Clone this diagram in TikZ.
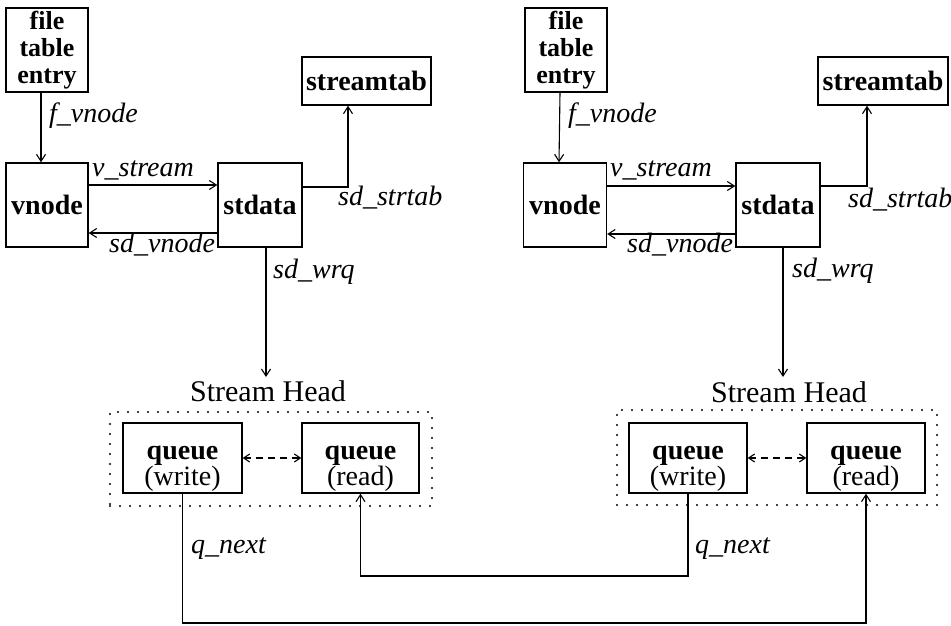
\documentclass[tikz,border=0pt]{standalone}
\usepackage{fontspec}
\setmainfont{Liberation Serif}
\usetikzlibrary{arrows.meta}
\begin{document}
\begin{tikzpicture}[x=1pt,y=-1pt,
  box/.style={draw, line width=1.4pt, inner sep=0pt, font=\fontsize{28}{25}\selectfont\bfseries, align=center},
  ftebox/.style={box, font=\fontsize{26}{27}\selectfont\bfseries},
  qbox/.style={draw, line width=1.4pt, inner sep=0pt},
  qtxt/.style={inner sep=0pt, font=\fontsize{28}{25}\selectfont\bfseries, align=center},
  lbl/.style={font=\fontsize{28}{24}\selectfont\itshape, inner sep=0pt},
  title/.style={font=\fontsize{30}{24}\selectfont, inner sep=0pt},
  conn/.style={line width=1.1pt, -{Straight Barb[length=7pt,width=9pt]}},
  dconn/.style={line width=1.1pt, dash pattern=on 7pt off 5pt, {Straight Barb[length=6pt,width=8pt]}-{Straight Barb[length=6pt,width=8pt]}},
  dotbox/.style={draw, line width=2.2pt, line cap=round, dash pattern=on 0pt off 10pt, inner sep=0pt},
]
\useasboundingbox (0,0) rectangle (951,626);

% ---------- left ----------
\node[ftebox, minimum width=82pt, minimum height=84pt] (fte1) at (47,50) {file\\table\\entry};
\node[box, minimum width=82pt, minimum height=84pt] (vnode1) at (47,205) {vnode};
\node[box, minimum width=84pt, minimum height=84pt] (std1) at (260,205) {stdata};
\node[box, minimum width=129pt, minimum height=48pt] (stab1) at (366.5,81) {streamtab};
\node[dotbox, minimum width=322pt, minimum height=94pt] (shbox1) at (271,459) {};
\node[qbox, minimum width=119pt, minimum height=70pt] (wq1) at (182.5,458) {};
\node[qbox, minimum width=117pt, minimum height=70pt] (rq1) at (360.5,458) {};
\node[qtxt] (wq1t) at ([yshift=-11pt]wq1.center) {queue\\\mdseries (write)};
\node[qtxt] (rq1t) at ([yshift=-11pt]rq1.center) {queue\\\mdseries (read)};
\node[title, anchor=base] (sh1) at (268,401) {Stream Head};

\node[lbl, anchor=base west] (lf1) at (49,122) {f\_vnode};
\node[lbl, anchor=base west] (lvs1) at (92,176) {v\_stream};
\node[lbl, anchor=base west] (lsv1) at (109,252) {sd\_vnode};
\node[lbl, anchor=base west] (lss1) at (338,205) {sd\_strtab};
\node[lbl, anchor=base west] (lsw1) at (273,278) {sd\_wrq};
\node[lbl, anchor=base west] (lq1) at (191,553) {q\_next};

\draw[conn] ([xshift=-6pt]fte1.south) -- ([xshift=-6pt]vnode1.north);
\draw[conn] ([yshift=20pt]vnode1.east) -- ([yshift=20pt]std1.west);
\draw[conn] ([yshift=-28pt]std1.west) -- ([yshift=-28pt]vnode1.east);
\draw[conn] ([yshift=18pt]std1.east) -| ([xshift=-18.5pt]stab1.south);
\coordinate (w1) at ([xshift=6pt]std1.south);
\coordinate (h1) at (266,377);
\draw[conn] (w1) -- (h1);
\draw[dconn] (wq1.east) -- (rq1.west);

% ---------- right ----------
\node[ftebox, minimum width=82pt, minimum height=84pt] (fte2) at (566,50) {file\\table\\entry};
\node[box, minimum width=83pt, minimum height=84pt] (vnode2) at (565,205) {vnode};
\node[box, minimum width=84pt, minimum height=84pt] (std2) at (778,205) {stdata};
\node[box, minimum width=130pt, minimum height=48pt] (stab2) at (883,81) {streamtab};
\node[dotbox, minimum width=320pt, minimum height=95pt] (shbox2) at (777,457.5) {};
\node[qbox, minimum width=118pt, minimum height=70pt] (wq2) at (688,458) {};
\node[qbox, minimum width=118pt, minimum height=70pt] (rq2) at (866,458) {};
\node[qtxt] (wq2t) at ([yshift=-11pt]wq2.center) {queue\\\mdseries (write)};
\node[qtxt] (rq2t) at ([yshift=-11pt]rq2.center) {queue\\\mdseries (read)};
\node[title, anchor=base] (sh2) at (789,402) {Stream Head};

\node[lbl, anchor=base west] (lf2) at (568,122) {f\_vnode};
\node[lbl, anchor=base west] (lvs2) at (610,176) {v\_stream};
\node[lbl, anchor=base west] (lsv2) at (627,252) {sd\_vnode};
\node[lbl, anchor=base west] (lss2) at (848,207) {sd\_strtab};
\node[lbl, anchor=base west] (lsw2) at (792,277) {sd\_wrq};
\node[lbl, anchor=base west] (lq2) at (695,553) {q\_next};

\draw[conn] ([xshift=-6pt]fte2.south) -- ([xshift=-6pt]vnode2.north);
\draw[conn] ([yshift=19pt]vnode2.east) -- ([yshift=19pt]std2.west);
\draw[conn] ([yshift=-29pt]std2.west) -- ([yshift=-29pt]vnode2.east);
\draw[conn] ([yshift=19pt]std2.east) -| ([xshift=-16pt]stab2.south);
\coordinate (w2) at ([xshift=5pt]std2.south);
\coordinate (h2) at (783,377);
\draw[conn] (w2) -- (h2);
\draw[dconn] (wq2.east) -- (rq2.west);

% ---------- q_next links ----------
\coordinate (bot) at (500,623);
\coordinate (mid) at (500,576);
\draw[conn] (wq1.south) |- (bot) -| (rq2.south);
\draw[conn] (wq2.south) |- (mid) -| (rq1.south);
\end{tikzpicture}
\end{document}
